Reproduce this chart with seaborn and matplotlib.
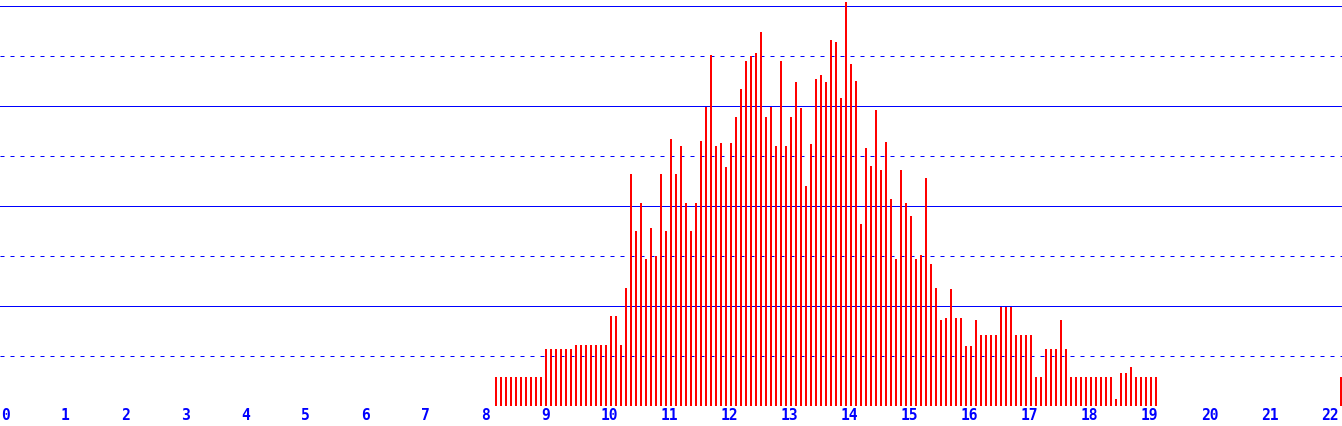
import numpy as np
import pandas as pd
import matplotlib
matplotlib.use("Agg")
import matplotlib.pyplot as plt
import seaborn as sns

# bins are twelfths of a unit on the x axis (k/12), heights in gridline units
bins = list(range(99, 232)) + [268]
heights = (
    [0.59] * 10 + [1.14] * 6 + [1.22] * 7
    + [1.80, 1.80, 1.22, 2.36, 4.64, 3.50, 4.06, 2.94, 3.56, 3.00,
       4.64, 3.50, 5.34, 4.64, 5.20, 4.06, 3.50, 4.06, 5.30, 5.98,
       7.02, 5.20, 5.26, 4.78, 5.26, 5.78, 6.34, 6.90, 7.00, 7.06,
       7.48, 5.78, 5.98, 5.20, 6.90, 5.20, 5.78, 6.48, 5.96, 4.40,
       5.24, 6.54, 6.62, 6.48, 7.32, 7.28, 6.16, 8.08, 6.84, 6.50,
       3.64, 5.16, 4.80, 5.92, 4.72, 5.28, 4.14, 2.94, 4.72, 4.06,
       3.80, 2.94, 3.02, 4.56, 2.84, 2.36, 1.72, 1.76, 2.34, 1.76,
       1.76, 1.20, 1.20, 1.72]
    + [1.42] * 4 + [1.98] * 3 + [1.42] * 4 + [0.59] * 2
    + [1.14] * 3 + [1.72, 1.14] + [0.59] * 9
    + [0.15, 0.66, 0.66, 0.78] + [0.59] * 5
    + [0.59]
)

df = pd.DataFrame({"x": np.array(bins) / 12, "value": heights})

W, H = 1342, 426
fig = plt.figure(figsize=(W / 100, H / 100), dpi=100)
ax = fig.add_axes([0, 20 / H, 1, 406 / H])
fig.patch.set_facecolor("white")
ax.set_facecolor("white")

# horizontal guide lines: solid on even, dashed on odd
for yv in range(9):
    if yv % 2 == 0:
        ax.axhline(yv, color="#0000ff", lw=0.72, zorder=0.5)
    else:
        ax.axhline(yv, color="#0000ff", lw=0.72, zorder=0.5,
                   linestyle=(0, (4, 6)))

sns.barplot(data=df, x="x", y="value", native_scale=True, width=0.46,
            color="#ff0000", saturation=1, errorbar=None, linewidth=0,
            antialiased=False, zorder=2, ax=ax)

ax.set_xlim(-1 / 60, (W - 1) / 60)
ax.set_ylim(0, 406 / 50)
for s in ax.spines.values():
    s.set_visible(False)
ax.set_yticks([])
ax.set_xticks(range(23))
ax.set_xticklabels([str(i) for i in range(23)], ha="left",
                   fontfamily="DejaVu Sans Mono", fontweight="bold",
                   fontsize=10.5, color="#0000ff")
ax.tick_params(axis="x", length=0, pad=1.5)
ax.set_xlabel("")
ax.set_ylabel("")

fig.savefig("out.png", dpi=100, facecolor="white")
